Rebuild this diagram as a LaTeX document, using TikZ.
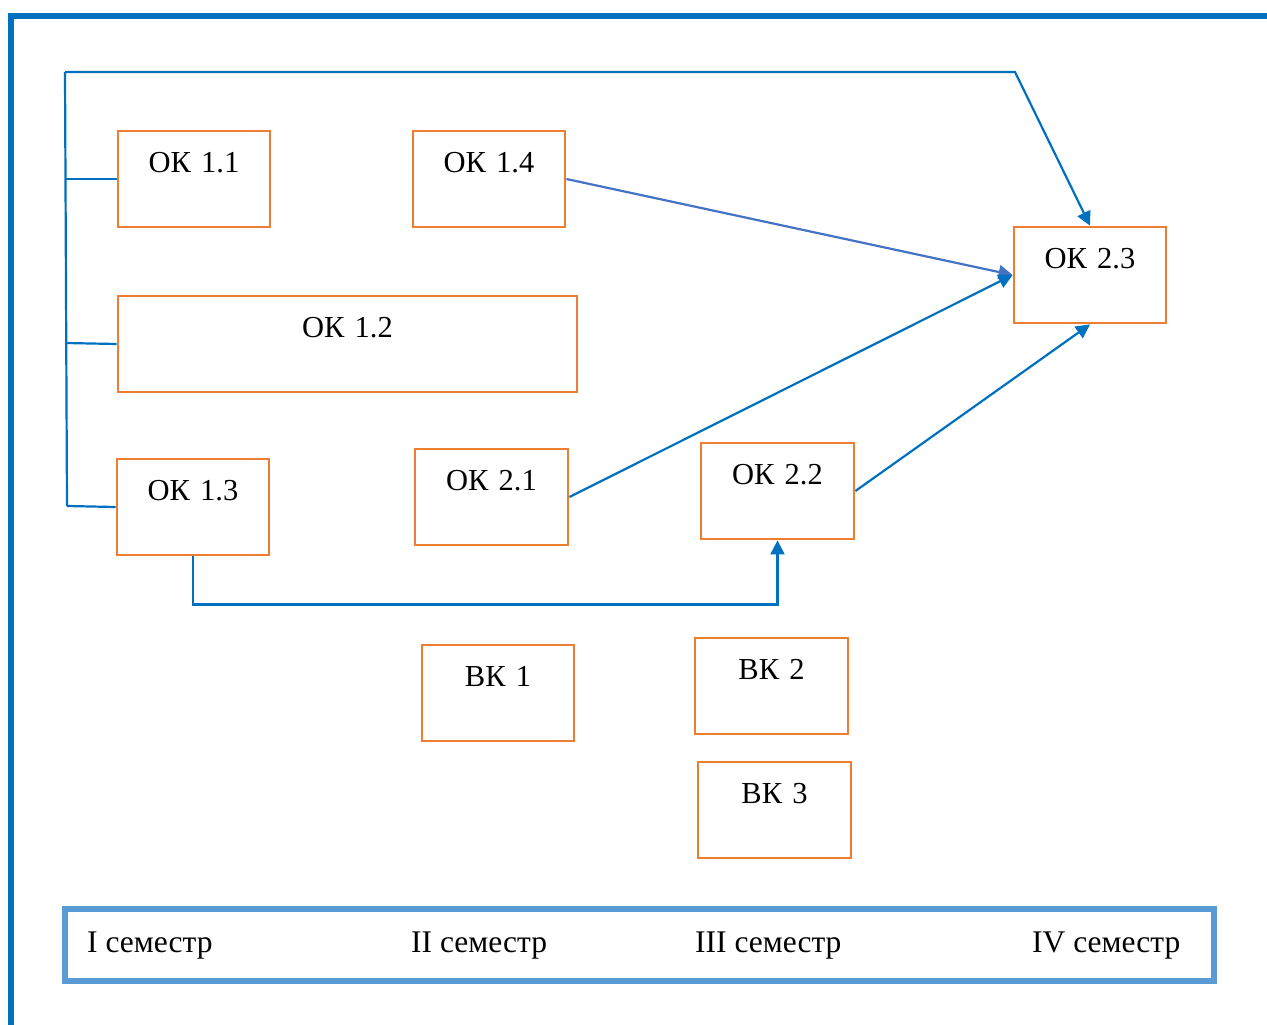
\documentclass[tikz,border=0pt]{standalone}
\usepackage{fontspec}
\setmainfont{Liberation Serif}
\usetikzlibrary{arrows.meta}
\definecolor{orng}{HTML}{ED7D31}
\definecolor{dblue}{HTML}{0070C0}
\definecolor{mblue}{HTML}{4472C4}
\definecolor{lblue}{HTML}{5B9BD5}
\begin{document}
\begin{tikzpicture}[x=1pt,y=-1pt,
  box/.style={draw=orng,line width=2.8pt,inner sep=0pt,text height=41pt,text depth=55pt,align=center,font=\fontsize{30.5}{36}\selectfont},
  conn/.style={draw=dblue,line width=2.2pt},
  arr/.style={conn,-{Triangle[length=14pt,width=14pt]}},
  sem/.style={anchor=base west,inner sep=0pt,font=\fontsize{31.5}{36}\selectfont}]
\useasboundingbox (0,0) rectangle (1267,1025);
% outer frame
\draw[dblue,line width=6pt] (10.5,1025) -- (10.5,16) -- (1267,16);
% boxes
\node[box,text width=152pt] (ok11) at (194,179) {ОК 1.1};
\node[box,text width=152pt] (ok14) at (489,179) {ОК 1.4};
\node[box,text width=459pt] (ok12) at (347.5,344) {ОК 1.2};
\node[box,text width=152pt] (ok13) at (193,507) {ОК 1.3};
\node[box,text width=153pt] (ok21) at (491.5,497) {ОК 2.1};
\node[box,text width=153pt] (ok22) at (777.5,491) {ОК 2.2};
\node[box,text width=152pt] (ok23) at (1090,275) {ОК 2.3};
\node[box,text width=152pt] (vk1) at (498,693) {ВК 1};
\node[box,text width=153pt] (vk2) at (771.5,686) {ВК 2};
\node[box,text width=153pt] (vk3) at (774.5,810) {ВК 3};
% bracket
\coordinate (bt) at (65,72);
\coordinate (bb) at (67,506);
\coordinate (tr) at (1015,72);
\coordinate (b1) at (65,179);
\coordinate (b2) at (66,343);
\draw[conn] (bt) -- (bb);
\draw[conn] (b1) -- (ok11.west);
\draw[conn] (b2) -- (ok12.west);
\draw[conn] (bb) -- (ok13.west);
\draw[arr] (bt) -- (tr) -- (ok23.north);
% arrows
\draw[arr,draw=mblue] (ok14.east) -- (ok23.west);
\draw[arr] (ok21.east) -- (ok23.west);
\draw[arr] (ok22.east) -- (ok23.south);
\draw[arr] (ok13.south) -- ++(0,48) -| (ok22.south);
% semester bar
\node[draw=lblue,line width=6pt,minimum width=1149pt,minimum height=72pt,inner sep=0pt] (bar) at (639.5,945) {};
\node[sem] (s1) at (87,952) {I семестр};
\node[sem] (s2) at (411,952) {II семестр};
\node[sem] (s3) at (695,952) {III семестр};
\node[sem] (s4) at (1032,952) {IV семестр};
\end{tikzpicture}
\end{document}
